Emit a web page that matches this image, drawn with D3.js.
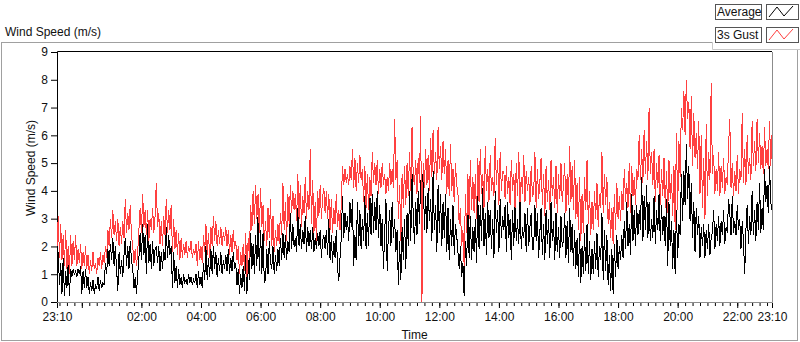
<!DOCTYPE html>
<html>
<head>
<meta charset="utf-8">
<script src="https://cdn.jsdelivr.net/npm/d3@7"></script>
<style>
  body { margin: 0; background: #fff; }
  text { font-family: "Liberation Sans", Arial, sans-serif; font-size: 12px; fill: #111; }
</style>
</head>
<body>
<div id="chart"></div>
<script>
// one sample every 150 s, starting 23:10, one row per hour
const startTime = new Date(2000, 0, 1, 23, 10);
const stepSeconds = 150;

const gust = [
  2.0, 3.1, 1.6, 2.8, 1.5, 2.4, 1.3, 2.6, 1.2, 2.0, 1.0, 2.4, 1.3, 2.2, 1.5, 2.4, 1.3, 1.9, 1.4, 2.1, 1.2, 1.8, 1.3, 2.0,
  1.2, 1.7, 1.0, 1.5, 1.1, 1.8, 1.2, 1.4, 1.0, 1.6, 1.3, 1.8, 1.2, 1.7, 1.4, 2.0, 1.6, 2.6, 2.0, 3.0, 2.3, 3.3, 2.4, 2.9,
  2.2, 3.0, 2.0, 2.7, 2.1, 2.9, 2.3, 3.7, 2.5, 3.2, 2.6, 3.5, 2.4, 2.0, 1.4, 1.9, 1.3, 1.8, 2.6, 3.4, 2.5, 3.9, 2.7, 3.3,
  2.4, 3.3, 2.2, 3.0, 2.6, 3.4, 2.5, 3.1, 4.3, 2.7, 3.2, 2.1, 2.9, 2.0, 3.1, 2.4, 3.7, 2.5, 3.3, 2.6, 3.5, 1.8, 3.0, 1.9,
  2.6, 1.7, 2.5, 1.5, 2.3, 1.6, 2.1, 1.7, 2.2, 1.6, 2.0, 1.8, 2.2, 1.6, 1.9, 1.7, 2.1, 1.3, 2.2, 1.5, 2.0, 1.4, 2.4, 1.8,
  2.8, 1.7, 2.5, 1.6, 2.7, 2.0, 3.1, 2.2, 2.9, 2.0, 2.6, 2.1, 2.7, 2.0, 2.5, 2.2, 2.7, 2.0, 2.6, 1.7, 2.4, 1.8, 2.6, 1.9,
  2.2, 1.5, 2.0, 1.0, 1.8, 1.3, 2.1, 1.1, 2.5, 0.9, 2.3, 1.6, 3.5, 2.6, 4.0, 2.8, 4.2, 3.0, 3.9, 2.5, 4.1, 2.7, 3.5, 2.2,
  2.9, 2.0, 3.4, 2.3, 3.7, 2.0, 3.1, 1.8, 2.6, 2.0, 2.8, 2.1, 3.2, 2.4, 4.3, 2.6, 3.6, 2.2, 3.9, 2.8, 4.2, 3.2, 4.0, 3.3,
  3.9, 2.9, 4.6, 3.0, 4.2, 2.7, 3.8, 3.2, 4.5, 3.0, 4.0, 3.3, 5.5, 2.8, 4.4, 2.5, 3.6, 2.2, 4.0, 3.1, 4.2, 3.0, 3.8, 4.1,
  3.2, 4.0, 3.0, 3.9, 2.6, 3.7, 2.5, 3.4, 2.8, 3.9, 2.7, 3.3, 2.6, 3.5, 4.9, 4.2, 4.8, 4.3, 4.6, 4.2, 4.9, 4.4, 5.5, 4.1,
  5.2, 4.0, 5.0, 4.3, 5.3, 4.4, 4.8, 3.6, 4.9, 3.4, 4.6, 3.3, 4.5, 3.8, 5.4, 4.3, 5.0, 4.2, 5.1, 3.9, 4.8, 4.1, 5.0, 4.2,
  4.6, 3.9, 4.5, 4.0, 5.0, 4.2, 4.8, 4.1, 6.6, 4.4, 5.1, 3.0, 4.2, 2.2, 4.6, 3.4, 4.9, 3.5, 5.0, 3.8, 5.4, 4.0, 6.3, 4.5,
  4.2, 5.1, 3.9, 5.2, 4.3, 6.7, 0.0, 5.0, 4.1, 5.5, 4.2, 5.3, 4.0, 5.9, 4.5, 6.2, 4.6, 5.4, 4.4, 6.3, 4.8, 5.6, 4.4, 5.8,
  4.6, 5.5, 3.9, 5.1, 3.8, 5.7, 4.0, 4.8, 3.6, 5.0, 4.2, 3.9, 2.8, 3.4, 2.0, 2.6, 1.3, 3.9, 2.5, 4.6, 3.0, 5.1, 3.3, 4.5,
  3.2, 4.6, 3.0, 5.2, 3.6, 5.5, 3.9, 4.6, 3.4, 5.6, 4.0, 4.8, 3.6, 5.3, 4.0, 4.5, 3.8, 5.9, 4.2, 5.1, 3.5, 5.4, 4.0, 4.7,
  4.7, 3.7, 4.9, 3.9, 4.5, 3.5, 5.1, 4.0, 4.6, 3.4, 5.0, 3.8, 5.4, 3.6, 4.5, 3.9, 5.3, 3.6, 4.7, 4.0, 4.5, 3.5, 4.9, 3.8,
  3.9, 5.4, 3.4, 4.8, 3.7, 4.3, 5.2, 3.5, 4.6, 3.1, 4.9, 3.6, 4.4, 3.3, 5.1, 3.8, 4.5, 3.4, 4.9, 3.2, 4.6, 3.7, 5.0, 3.6,
  4.2, 5.0, 3.2, 4.6, 3.5, 5.6, 3.6, 4.9, 3.3, 5.1, 3.0, 4.3, 2.6, 4.5, 2.2, 3.9, 2.5, 4.5, 3.3, 5.1, 2.8, 4.0, 2.4, 3.6,
  2.6, 4.0, 3.0, 4.3, 2.7, 3.9, 3.4, 5.4, 3.2, 4.6, 3.5, 4.5, 2.8, 3.6, 2.3, 3.4, 2.1, 3.9, 2.6, 4.3, 3.0, 3.8, 2.9, 4.0,
  3.3, 4.8, 3.6, 4.3, 3.4, 5.0, 3.2, 4.9, 3.8, 4.5, 3.5, 4.8, 4.4, 6.0, 4.4, 5.5, 4.3, 6.2, 4.6, 5.8, 4.4, 7.0, 4.6, 5.4,
  4.2, 5.5, 3.6, 5.0, 4.1, 5.3, 3.5, 4.8, 3.8, 5.2, 3.4, 4.7, 3.2, 5.1, 3.7, 4.6, 3.1, 4.9, 2.6, 6.1, 3.3, 5.8, 4.5, 7.0,
  6.2, 7.6, 6.0, 8.0, 6.6, 7.2, 5.5, 7.4, 4.9, 6.8, 5.2, 6.1, 4.8, 6.5, 3.9, 6.0, 3.4, 5.2, 3.0, 6.4, 3.8, 5.4, 4.4, 7.9,
  4.6, 5.3, 3.9, 4.8, 4.0, 5.4, 3.8, 4.9, 4.1, 5.2, 3.9, 4.5, 4.2, 5.6, 6.6, 4.1, 5.0, 3.8, 4.7, 4.0, 5.3, 3.9, 4.8, 4.4,
  6.8, 4.3, 5.5, 4.2, 6.0, 4.6, 5.2, 4.4, 6.5, 4.9, 5.8, 4.7, 6.6, 5.0, 6.1, 4.8, 5.6, 4.6, 6.3, 4.9, 5.5, 4.8, 6.5, 4.9, 6.0
];

const average = [
  0.1, 1.8, 0.6, 1.4, 0.3, 1.6, 0.2, 1.1, 0.5, 1.5, 0.2, 1.2, 0.9, 1.2, 1.0, 1.1, 0.9, 1.2, 1.0, 1.3, 0.3, 1.1, 0.5, 1.2,
  0.5, 0.9, 0.3, 0.7, 0.4, 0.8, 0.3, 0.6, 0.5, 0.9, 0.4, 0.8, 0.5, 0.7, 0.6, 1.4, 1.0, 1.9, 1.3, 2.1, 1.5, 2.3, 1.3, 2.0,
  1.2, 0.4, 1.8, 1.0, 1.5, 0.9, 1.7, 2.3, 1.3, 2.0, 1.2, 2.2, 1.5, 1.2, 0.5, 0.9, 0.3, 1.0, 1.6, 2.5, 1.5, 2.8, 1.7, 2.4,
  1.0, 2.8, 1.4, 2.1, 1.2, 2.2, 1.3, 1.9, 2.0, 1.4, 2.0, 1.1, 1.8, 1.2, 1.9, 1.5, 2.7, 1.6, 2.4, 1.7, 2.0, 0.5, 1.8, 0.7,
  1.3, 0.5, 1.2, 0.6, 0.9, 0.5, 1.0, 0.7, 0.8, 0.6, 1.0, 0.7, 0.9, 0.6, 0.8, 0.7, 1.0, 0.5, 1.1, 0.6, 0.9, 0.5, 1.4, 0.8,
  2.0, 0.8, 1.6, 0.9, 1.9, 1.0, 2.0, 1.2, 1.8, 0.9, 1.6, 1.1, 1.8, 1.0, 1.5, 1.2, 1.7, 1.1, 1.9, 1.0, 1.6, 1.1, 1.8, 1.2,
  1.4, 0.6, 1.2, 0.3, 1.0, 0.5, 1.3, 0.4, 1.7, 0.3, 1.5, 0.8, 2.5, 1.2, 2.1, 1.0, 2.4, 1.3, 3.2, 1.1, 2.6, 1.0, 2.5, 0.7,
  0.8, 1.9, 1.0, 2.2, 1.4, 1.2, 2.0, 1.0, 1.7, 1.1, 1.9, 1.3, 2.3, 1.5, 2.5, 1.6, 2.4, 1.5, 2.2, 1.8, 3.2, 1.9, 2.8, 2.0,
  2.3, 1.8, 3.4, 2.0, 2.8, 1.9, 2.6, 2.1, 3.1, 1.8, 2.7, 2.0, 2.6, 1.9, 2.7, 1.8, 2.3, 1.9, 2.5, 2.0, 2.6, 1.6, 2.2, 2.4,
  1.9, 2.6, 1.7, 3.0, 1.5, 2.4, 1.4, 2.2, 1.6, 2.6, 1.2, 0.75, 1.6, 2.3, 3.8, 2.3, 3.2, 2.6, 3.1, 2.2, 3.6, 2.7, 3.7, 1.3,
  2.4, 1.5, 3.6, 2.0, 3.3, 1.9, 3.0, 2.2, 3.8, 1.9, 3.2, 2.0, 4.0, 2.4, 3.9, 2.5, 3.6, 2.6, 4.0, 2.3, 3.5, 2.0, 3.0, 1.2,
  2.5, 3.7, 1.1, 2.6, 3.3, 2.0, 3.6, 2.3, 3.0, 1.8, 2.6, 0.6, 2.2, 0.8, 2.7, 1.5, 3.0, 1.2, 3.2, 2.0, 4.0, 2.2, 4.6, 3.1,
  2.1, 3.6, 2.4, 4.0, 2.8, 4.4, 3.0, 4.9, 2.6, 3.8, 2.5, 4.1, 2.9, 3.7, 2.2, 4.7, 2.6, 3.5, 1.8, 4.2, 2.5, 3.9, 2.0, 3.6,
  2.3, 3.9, 1.8, 3.4, 1.5, 3.0, 2.0, 3.5, 1.7, 2.8, 2.4, 1.8, 1.2, 2.0, 0.9, 1.4, 0.2, 2.2, 1.3, 3.4, 1.6, 3.1, 1.5, 2.7,
  1.8, 3.0, 1.4, 3.8, 1.9, 3.5, 2.2, 4.1, 2.0, 3.2, 1.7, 3.6, 2.3, 3.3, 1.9, 3.0, 1.6, 4.0, 2.5, 3.3, 1.8, 3.7, 2.3, 3.1,
  2.6, 3.5, 1.8, 3.6, 2.3, 3.0, 1.5, 3.3, 2.0, 3.7, 2.2, 3.0, 2.1, 3.8, 1.9, 2.7, 2.3, 3.2, 1.8, 3.4, 2.0, 2.7, 3.2, 1.9,
  1.9, 3.5, 2.2, 3.2, 1.6, 2.5, 3.4, 1.7, 2.8, 1.5, 3.3, 2.1, 3.0, 1.6, 3.6, 2.2, 2.9, 1.5, 3.2, 1.8, 2.7, 1.6, 3.1, 2.0,
  2.2, 3.2, 1.6, 2.9, 1.4, 3.4, 1.8, 2.8, 1.3, 2.6, 1.2, 2.3, 0.9, 2.5, 0.7, 2.0, 1.0, 2.5, 1.1, 2.8, 1.0, 2.2, 0.8, 1.9,
  1.0, 2.2, 1.2, 2.5, 0.9, 2.0, 1.5, 3.2, 0.8, 2.6, 1.1, 2.4, 0.6, 1.7, 0.4, 1.9, 0.3, 2.1, 0.9, 2.4, 1.2, 2.0, 1.5, 2.4,
  1.6, 2.9, 1.9, 3.6, 2.0, 2.8, 1.7, 3.9, 2.2, 3.3, 2.0, 3.5, 2.4, 3.3, 2.6, 4.5, 2.2, 3.8, 2.6, 4.2, 2.3, 3.6, 2.2, 3.0,
  2.3, 3.8, 2.1, 3.3, 2.6, 3.9, 2.2, 3.5, 2.4, 3.1, 2.0, 3.7, 1.3, 3.6, 2.0, 2.9, 1.2, 2.6, 1.0, 3.3, 1.6, 2.8, 2.4, 4.6,
  2.9, 4.7, 3.5, 5.7, 3.7, 4.9, 2.9, 4.3, 2.3, 3.6, 1.8, 3.4, 2.4, 3.1, 1.6, 2.7, 2.0, 2.8, 1.6, 2.6, 1.9, 2.8, 1.7, 2.3,
  2.5, 3.3, 1.9, 2.8, 2.2, 3.1, 2.0, 2.9, 2.4, 3.3, 2.1, 2.7, 2.5, 3.7, 3.2, 2.4, 3.8, 2.5, 2.9, 2.4, 3.5, 2.6, 3.0, 1.9,
  2.9, 2.2, 1.0, 2.6, 3.5, 2.1, 3.1, 2.4, 4.0, 2.4, 3.3, 2.2, 3.6, 2.6, 4.3, 2.5, 3.4, 2.6, 4.8, 3.6, 4.2, 3.2, 4.9, 3.6, 3.3
];

const yTicks = [0, 1, 2, 3, 4, 5, 6, 7, 8, 9];
const seriesNames = ["Average", "3s Gust"];
const seriesColors = ["#000000", "#ff4040"];

const width = 800, height = 342;
const plotLeft = 57, plotRight = 772, plotTop = 52, plotBottom = 302;

const endTime = d3.timeSecond.offset(startTime, stepSeconds * (gust.length - 1));
const timeAt = i => d3.timeSecond.offset(startTime, i * stepSeconds);

const x = d3.scaleTime().domain([startTime, endTime]).range([plotLeft, plotRight]);
const y = d3.scaleLinear().domain([0, 9]).range([plotBottom, plotTop]);

const svg = d3.select("#chart").append("svg")
  .attr("width", width)
  .attr("height", height);

// outer frame
svg.append("rect")
  .attr("x", 1.5).attr("y", 42.5)
  .attr("width", 796).attr("height", 298)
  .attr("fill", "#fff")
  .attr("stroke", "#a0a0a0");

svg.append("text")
  .attr("x", 5).attr("y", 36)
  .text("Wind Speed (m/s)");

// legend panel in top right corner
const lg = svg.append("g");
lg.append("rect")
  .attr("x", 712).attr("y", 0)
  .attr("width", 88).attr("height", 49)
  .attr("fill", "#fff");
lg.append("path")
  .attr("d", "M712.5,42V49.5H800")
  .attr("fill", "none")
  .attr("stroke", "#c8c8c8");

seriesNames.forEach((name, i) => {
  const yy = 4 + i * 23;
  lg.append("rect")
    .attr("x", 715.5).attr("y", yy + 0.5)
    .attr("width", 46).attr("height", 15)
    .attr("fill", "#fff").attr("stroke", "#555");
  lg.append("text")
    .attr("x", 717).attr("y", yy + 12)
    .text(name);
  lg.append("rect")
    .attr("x", 766.5).attr("y", yy + 0.5)
    .attr("width", 32).attr("height", 15)
    .attr("fill", "#fff").attr("stroke", "#555");
  lg.append("path")
    .attr("d", `M769,${yy + 13}L777,${yy + 3}L784,${yy + 12}L793,${yy + 2}`)
    .attr("fill", "none")
    .attr("stroke", seriesColors[i]);
});

// plot frame
svg.append("path")
  .attr("d", `M${plotLeft + 0.5},${plotBottom}V${plotTop - 0.5}H${plotRight}`)
  .attr("fill", "none").attr("stroke", "#000");
svg.append("path")
  .attr("d", `M${plotLeft},${plotBottom + 0.5}H${plotRight + 0.5}V${plotTop}`)
  .attr("fill", "none").attr("stroke", "#8c8c8c");

// y axis
const yAxis = d3.axisLeft(y).tickValues(yTicks).tickSize(6).tickPadding(3).tickFormat(d3.format("d"));
svg.append("g")
  .attr("transform", `translate(${plotLeft},0)`)
  .call(yAxis)
  .call(g => g.select(".domain").remove())
  .call(g => g.selectAll("line").attr("stroke", "#000"))
  .call(g => g.selectAll("text").style("font-size", "12px").attr("fill", "#111"));

svg.append("text")
  .attr("transform", "translate(35,168) rotate(-90)")
  .attr("text-anchor", "middle")
  .text("Wind Speed (m/s)");

// x axis: minor ticks every 15 min, major every 2 h plus the end points
const minorTicks = d3.timeMinute.every(15).range(startTime, endTime);
const majorTicks = [startTime].concat(d3.timeHour.every(2).range(startTime, endTime), [endTime]);
const fmt = d3.timeFormat("%H:%M");

svg.append("g")
  .attr("transform", `translate(0,${plotBottom + 1})`)
  .call(d3.axisBottom(x).tickValues(minorTicks).tickSize(3).tickFormat(""))
  .call(g => g.select(".domain").remove());

svg.append("g")
  .attr("transform", `translate(0,${plotBottom + 1})`)
  .call(d3.axisBottom(x).tickValues(majorTicks).tickSize(5).tickPadding(4)
    .tickFormat(d => {
      const px = x(d);
      const isEnd = +d === +startTime || +d === +endTime;
      if (!isEnd && (px - plotLeft < 40 || plotRight - px < 30)) return "";
      return fmt(d);
    }))
  .call(g => g.select(".domain").remove())
  .call(g => g.selectAll("text").style("font-size", "12px").attr("fill", "#111"));

svg.append("text")
  .attr("x", (plotLeft + plotRight) / 2).attr("y", 339)
  .attr("text-anchor", "middle")
  .text("Time");

// series lines, average first so the gust trace sits on top
const line = d3.line()
  .x((d, i) => x(timeAt(i)))
  .y(d => y(d));

const plot = svg.append("g");
[average, gust].forEach((s, i) => {
  plot.append("path")
    .datum(s)
    .attr("d", line)
    .attr("fill", "none")
    .attr("stroke", seriesColors[i])
    .attr("stroke-width", 1)
    .attr("shape-rendering", "crispEdges");
});
</script>
</body>
</html>
